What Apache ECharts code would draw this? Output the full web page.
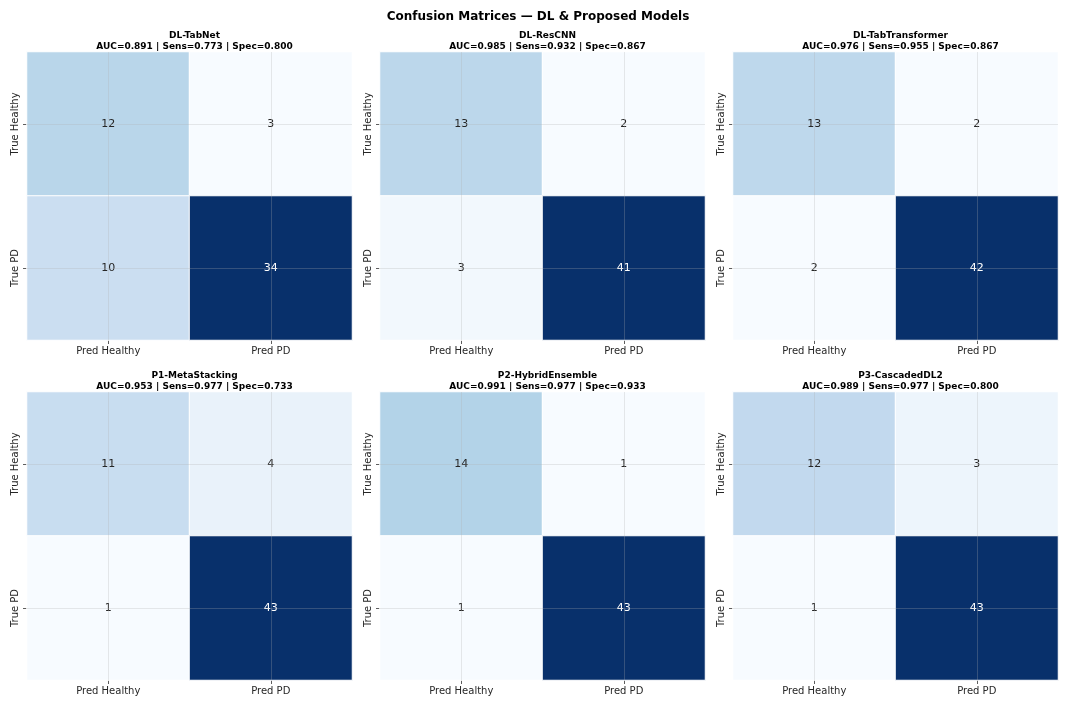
<!DOCTYPE html>
<html>
<head>
<meta charset="utf-8">
<script src="https://cdn.jsdelivr.net/npm/echarts@6/dist/echarts.min.js"></script>
<style>
  html, body { margin: 0; padding: 0; background: #fff; }
  #chart { width: 1066px; height: 706px; }
</style>
</head>
<body>
<div id="chart"></div>
<script>
  const models = ['DL-TabNet', 'DL-ResCNN', 'DL-TabTransformer', 'P1-MetaStacking', 'P2-HybridEnsemble', 'P3-CascadedDL2']
  const auc = ['0.891', '0.985', '0.976', '0.953', '0.991', '0.989']
  const sens = ['0.773', '0.932', '0.955', '0.977', '0.977', '0.977']
  const spec = ['0.800', '0.867', '0.867', '0.733', '0.933', '0.800']
  // confusion counts
  const tn = [12, 13, 13, 11, 14, 12]
  const fp = [3, 2, 2, 4, 1, 3]
  const fn = [10, 3, 2, 1, 1, 1]
  const tp = [34, 41, 42, 43, 43, 43]
  const predLabels = ['Pred Healthy', 'Pred PD']
  const trueLabels = ['True Healthy', 'True PD']

  const blues = ['#f7fbff', '#deebf7', '#c6dbef', '#9ecae1', '#6baed6', '#4292c6', '#2171b5', '#08519c', '#08306b']
  const font = 'DejaVu Sans'
  const lefts = [27, 380, 733]
  const tops = [52, 392]
  const W = 325
  const H = 288

  let myChart = echarts.init(document.getElementById('chart'))

  let grids = [], xAxes = [], yAxes = [], series = [], visualMaps = []
  let titles = [{
    text: 'Confusion Matrices — DL & Proposed Models',
    left: 533,
    top: 6,
    textAlign: 'center',
    textStyle: { fontFamily: font, fontSize: 12, fontWeight: 'bold', color: '#000' }
  }]

  models.forEach((name, i) => {
    let col = i % 3
    let row = Math.floor(i / 3)
    let cells = [
      [0, 0, tn[i]], [1, 0, fp[i]],
      [0, 1, fn[i]], [1, 1, tp[i]]
    ]
    let vals = cells.map(c => c[2])
    let lo = Math.min(...vals)
    let hi = Math.max(...vals)
    grids.push({ left: lefts[col], top: tops[row], width: W, height: H })
    titles.push({
      text: name,
      subtext: `AUC=${auc[i]} | Sens=${sens[i]} | Spec=${spec[i]}`,
      left: lefts[col] + W / 2,
      top: tops[row] - 26,
      textAlign: 'center',
      itemGap: 1,
      textStyle: { fontFamily: font, fontSize: 9, fontWeight: 'bold', color: '#000', lineHeight: 10 },
      subtextStyle: { fontFamily: font, fontSize: 9, fontWeight: 'bold', color: '#000', lineHeight: 10 }
    })
    xAxes.push({
      type: 'category',
      gridIndex: i,
      data: predLabels,
      axisLine: { show: false },
      axisTick: { show: true, alignWithLabel: true, length: 4, lineStyle: { color: '#333', width: 0.8 } },
      axisLabel: { fontFamily: font, fontSize: 10, color: '#262626', margin: 6 },
      splitLine: { show: false }
    })
    yAxes.push({
      type: 'category',
      gridIndex: i,
      inverse: true,
      data: trueLabels,
      axisLine: { show: false },
      axisTick: { show: true, alignWithLabel: true, length: 4, lineStyle: { color: '#333', width: 0.8 } },
      axisLabel: { fontFamily: font, fontSize: 10, color: '#262626', rotate: 90, margin: 7 },
      splitLine: { show: false }
    })
    visualMaps.push({
      type: 'continuous',
      show: false,
      seriesIndex: i,
      dimension: 2,
      min: lo,
      max: hi,
      inRange: { color: blues }
    })
    series.push({
      type: 'heatmap',
      xAxisIndex: i,
      yAxisIndex: i,
      data: cells.map(c => ({
        value: c,
        label: { color: c[2] > (lo + hi) / 2 ? '#ffffff' : '#262626' }
      })),
      label: { show: true, fontFamily: font, fontSize: 11 },
      itemStyle: { borderColor: '#ffffff', borderWidth: 1 },
      emphasis: { disabled: true },
      markLine: {
        silent: true,
        symbol: ['none', 'none'],
        label: { show: false },
        lineStyle: { color: 'rgba(176,176,176,0.35)', type: 'solid', width: 0.8 },
        data: [
          { xAxis: predLabels[0] }, { xAxis: predLabels[1] },
          { yAxis: trueLabels[0] }, { yAxis: trueLabels[1] }
        ]
      }
    })
  })

  myChart.setOption({
    backgroundColor: '#ffffff',
    animation: false,
    title: titles,
    grid: grids,
    xAxis: xAxes,
    yAxis: yAxes,
    visualMap: visualMaps,
    series: series
  })
</script>
</body>
</html>
